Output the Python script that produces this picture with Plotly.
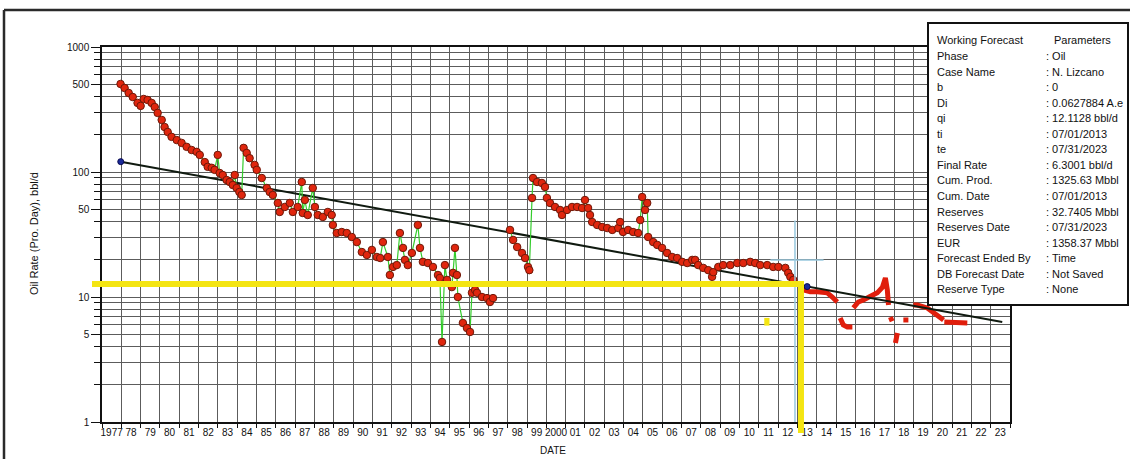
import plotly.graph_objects as go

# ---------------- data ----------------
# Monthly oil-rate history (decimal year, bbl/d); None marks the shut-in gap
hist_year = [
    1977.96, 1978.17, 1978.38, 1978.59, 1978.84, 1979.00, 1979.16, 1979.36, 1979.57, 1979.73,
    1979.88, 1980.09, 1980.24, 1980.40, 1980.60, 1980.87, 1981.12, 1981.38, 1981.64, 1981.90,
    1982.06, 1982.32, 1982.47, 1982.68, 1982.83, 1982.99, 1983.09, 1983.25, 1983.45, 1983.61,
    1983.77, 1983.87, 1983.97, 1984.11, 1984.23, 1984.33, 1984.49, 1984.64, 1984.90, 1985.01,
    1985.27, 1985.53, 1985.68, 1985.84, 1986.10, 1986.20, 1986.46, 1986.72, 1986.88, 1987.13,
    1987.34, 1987.39, 1987.50, 1987.65, 1987.91, 1988.02, 1988.17, 1988.43, 1988.69, 1988.89,
    1988.95, 1989.15, 1989.41, 1989.67, 1989.93, 1990.19, 1990.45, 1990.71, 1990.97, 1991.23,
    1991.40, 1991.54, 1991.80, 1991.90, 1992.06, 1992.26, 1992.42, 1992.58, 1992.68, 1992.83,
    1993.04, 1993.35, 1993.46, 1993.61, 1993.87, 1994.13, 1994.39, 1994.49, 1994.60, 1994.75,
    1994.86, 1995.11, 1995.17, 1995.27, 1995.37, 1995.42, 1995.68, 1995.89, 1996.05, 1996.15,
    1996.31, 1996.41, 1996.67, 1996.93, 1997.08, 1997.24, None,
    1998.12, 1998.28, 1998.49, 1998.74, 1998.90, 1999.05, 1999.12, 1999.26, 1999.31, 1999.52,
    1999.77, 1999.93, 2000.03, 2000.19, 2000.45, 2000.71, 2000.81, 2001.07, 2001.33, 2001.59,
    2001.85, 2002.00, 2002.16, 2002.26, 2002.37, 2002.63, 2002.89, 2003.15, 2003.41, 2003.72,
    2003.82, 2003.97, 2004.23, 2004.49, 2004.75, 2004.86, 2004.96, 2005.11, 2005.22, 2005.27,
    2005.53, 2005.74, 2005.99, 2006.25, 2006.51, 2006.77, 2007.03, 2007.29, 2007.55, 2007.70,
    2007.86, 2008.12, 2008.38, 2008.58, 2008.64, 2008.90, 2009.15, 2009.52, 2009.88, 2010.19,
    2010.55, 2010.81, 2011.07, 2011.43, 2011.74, 2012.01, 2012.37, 2012.52, 2012.63, 2012.78,
]
hist_rate = [
    506, 470, 429, 398, 357, 338, 384, 377, 357, 331,
    297, 261, 229, 209, 191, 180, 171, 159, 150, 145,
    137, 120, 110, 108, 104, 137, 98.2, 94.6, 86.3, 83.2,
    78.7, 94.6, 74.5, 69.2, 65.5, 156, 142, 129, 114, 104,
    89.5, 74.5, 69.2, 65.5, 56.5, 47.9, 52.5, 56.5, 47.9, 52.5,
    83.2, 47.0, 59.7, 45.3, 74.5, 52.5, 45.3, 43.7, 47.9, 45.3,
    37.7, 32.5, 33.1, 32.5, 30.2, 27.5, 22.9, 21.7, 23.8, 20.9,
    20.5, 27.5, 20.9, 15.0, 17.4, 18.0, 32.5, 24.7, 19.8, 18.0,
    22.5, 37.7, 24.7, 19.1, 18.7, 17.4, 15.0, 14.2, 4.37, 18.0,
    13.7, 12.0, 15.6, 24.7, 15.0, 10.0, 6.2, 5.65, 5.25, 10.8,
    11.4, 10.8, 10.0, 9.8, 9.12, 9.8, None,
    34.4, 28.6, 25.1, 22.5, 20.5, 17.4, 16.4, 62.0, 89.5, 83.2,
    81.7, 75.9, 62.0, 56.5, 52.5, 49.7, 45.3, 49.7, 52.5, 52.5,
    51.5, 59.7, 51.5, 45.3, 39.8, 37.7, 36.3, 35.6, 34.4, 35.6,
    39.8, 33.1, 34.4, 33.1, 32.5, 41.3, 63.1, 49.7, 56.5, 30.2,
    27.5, 26.1, 24.7, 22.5, 20.9, 20.5, 19.1, 18.7, 19.8, 19.8,
    18.0, 17.1, 16.4, 14.5, 15.8, 17.4, 18.0, 18.0, 18.7, 18.7,
    19.1, 18.7, 18.0, 18.0, 17.4, 17.4, 17.1, 15.6, 14.5, 13.7,
]

# Production after the forecast start (drawn as a heavy red trace)
post_year = [
    2013.30, 2013.66, 2014.02, 2014.54, 2014.80, 2015.06, None,
    2015.21, 2015.37, 2015.58, 2015.84, None,
    2015.89, 2016.15, 2016.41, 2016.77, 2017.13, 2017.40, 2017.55, 2017.65, 2017.71, None,
    2017.81, 2017.90, None,
    2018.07, 2018.17, None,
    2018.48, 2018.74, None,
    2019.00, 2019.20, 2019.72, 2020.03, 2020.39, 2020.56, None,
    2020.60, 2021.07, 2021.59, 2021.79,
]
post_rate = [
    11.4, 11.0, 11.0, 10.8, 10.0, 9.12, None,
    6.8, 5.97, 5.75, 5.75, None,
    8.17, 9.12, 9.46, 10.0, 10.8, 12.0, 14.2, 11.4, 8.63, None,
    6.9, 6.4, None,
    4.29, 5.16, None,
    6.55, 6.55, None,
    8.63, 8.63, 8.17, 7.59, 6.93, 6.55, None,
    6.31, 6.31, 6.31, 6.2,
]

# Exponential decline: start of the fitted line and final forecast rate
fit_year = [1977.97, 2023.60]
fit_rate = [121.0, 6.3001]

# Anchor points of the decline (start of fit, ti = 07/01/2013)
anchor_year = [1977.97, 2013.50]
anchor_rate = [121.0, 12.1128]

# Hand-drawn markers: qi level and forecast start date
qi_level = 12.7
ti_marker_year = 2013.18
cursor_year = 2012.87
cursor_rate = 19.8

year_ticks = list(range(1977, 2024))
year_labels = [
    "1977", "78", "79", "80", "81", "82", "83", "84", "85", "86", "87", "88", "89", "90",
    "91", "92", "93", "94", "95", "96", "97", "98", "99", "2000", "01", "02", "03", "04",
    "05", "06", "07", "08", "09", "10", "11", "12", "13", "14", "15", "16", "17", "18",
    "19", "20", "21", "22", "23",
]
rate_ticks = [1, 5, 10, 50, 100, 500, 1000]
rate_minor = [2, 3, 4, 6, 7, 8, 9, 20, 30, 40, 60, 70, 80, 90,
              200, 300, 400, 600, 700, 800, 900]

param_names = [
    "Working Forecast", "Phase", "Case Name", "b", "Di", "qi", "ti", "te",
    "Final Rate", "Cum. Prod.", "Cum. Date", "Reserves", "Reserves Date", "EUR",
    "Forecast Ended By", "DB Forecast Date", "Reserve Type",
]
param_values = [
    "Parameters", ": Oil", ": N. Lizcano", ": 0", ": 0.0627884 A.e", ": 12.1128 bbl/d",
    ": 07/01/2013", ": 07/31/2023", ": 6.3001 bbl/d", ": 1325.63 Mbbl", ": 07/01/2013",
    ": 32.7405 Mbbl", ": 07/31/2023", ": 1358.37 Mbbl", ": Time", ": Not Saved", ": None",
]

# ---------------- layout geometry (pixels) ----------------
W, H = 1130, 459
L, R, T, B = 102, 1010, 47, 422
FONT = "Liberation Sans, Arial, sans-serif"


def px(x):
    return (x - L) / (R - L)


def py(y):
    return (B - y) / (B - T)


GRID = "#5c5c5c"
YELLOW = "#f4e512"
CURSOR = "#98c8de"

fig = go.Figure()

fig.add_trace(go.Scatter(
    x=post_year, y=post_rate, mode="lines",
    line=dict(color="#e01e0c", width=5), connectgaps=False, hoverinfo="skip",
))
fig.add_trace(go.Scatter(
    x=fit_year, y=fit_rate, mode="lines",
    line=dict(color="#101a10", width=2), hoverinfo="skip",
))
fig.add_trace(go.Scatter(
    x=hist_year, y=hist_rate, mode="lines+markers", connectgaps=False,
    line=dict(color="#34cc2c", width=1.2),
    marker=dict(symbol="circle", size=7.5, color="#e0260e",
                line=dict(color="#6e1808", width=1)),
))
fig.add_trace(go.Scatter(
    x=anchor_year, y=anchor_rate, mode="markers",
    marker=dict(size=6, color="#1a2a9a", line=dict(color="#0a0a50", width=1)),
))

shapes = []
# outer frame of the report window
shapes.append(dict(type="line", xref="paper", yref="paper",
                   x0=px(4), x1=px(W + 5), y0=py(10), y1=py(10),
                   line=dict(color="#2a2a2a", width=2.5), layer="above"))
shapes.append(dict(type="line", xref="paper", yref="paper",
                   x0=px(4), x1=px(4), y0=py(10), y1=py(H + 5),
                   line=dict(color="#2a2a2a", width=2.5), layer="above"))
# cursor cross-hair
shapes.append(dict(type="line", xref="x", yref="y",
                   x0=cursor_year, x1=cursor_year, y0=41.0, y1=1.0,
                   line=dict(color=CURSOR, width=1.5), layer="above"))
shapes.append(dict(type="line", xref="x", yref="y",
                   x0=2011.6, x1=2014.35, y0=cursor_rate, y1=cursor_rate,
                   line=dict(color=CURSOR, width=1.5), layer="above"))
# qi level and forecast start markers
shapes.append(dict(type="line", xref="paper", yref="y",
                   x0=px(92), x1=px(804), y0=qi_level, y1=qi_level,
                   line=dict(color=YELLOW, width=6), layer="above"))
shapes.append(dict(type="line", xref="x", yref="paper",
                   x0=ti_marker_year, x1=ti_marker_year, y0=py(281), y1=py(433),
                   line=dict(color=YELLOW, width=6), layer="above"))
shapes.append(dict(type="rect", xref="x", yref="y",
                   x0=2011.28, x1=2011.55, y0=5.9, y1=6.8,
                   fillcolor=YELLOW, line=dict(width=0), layer="above"))
# parameter box
shapes.append(dict(type="rect", xref="paper", yref="paper",
                   x0=px(928), x1=px(1128), y0=py(305), y1=py(23),
                   fillcolor="white", line=dict(color="#111111", width=2),
                   layer="above"))

annotations = []
for i, (name, val) in enumerate(zip(param_names, param_values)):
    yy = py(40.5 + 15.55 * i)
    annotations.append(dict(xref="paper", yref="paper", x=px(935), y=yy,
                             text=name, showarrow=False, xanchor="left",
                             yanchor="middle",
                             font=dict(family=FONT, size=11, color="#111")))
    vx = 1052 if i == 0 else 1044
    annotations.append(dict(xref="paper", yref="paper", x=px(vx), y=yy,
                             text=val, showarrow=False, xanchor="left",
                             yanchor="middle",
                             font=dict(family=FONT, size=11, color="#111")))

annotations.append(dict(xref="paper", yref="paper", x=px(34), y=py(234),
                        text="Oil Rate (Pro. Day), bbl/d", textangle=-90,
                        showarrow=False, xanchor="center", yanchor="middle",
                        font=dict(family=FONT, size=11, color="#111")))
annotations.append(dict(xref="paper", yref="paper", x=px(553), y=py(450),
                        text="DATE", showarrow=False, xanchor="center",
                        yanchor="middle",
                        font=dict(family=FONT, size=10, color="#111")))

fig.update_layout(
    width=W, height=H,
    margin=dict(l=L, r=W - R, t=T, b=H - B, pad=0),
    paper_bgcolor="white", plot_bgcolor="white",
    showlegend=False,
    font=dict(family=FONT, size=10, color="#111"),
    shapes=shapes, annotations=annotations,
    xaxis=dict(
        range=[1977, 2024],
        tickmode="array",
        tickvals=[y + 0.5 for y in year_ticks],
        ticktext=year_labels,
        ticks="", showgrid=False,
        tickfont=dict(family=FONT, size=10, color="#111"),
        showline=True, linecolor="#111", linewidth=1.5, mirror=True,
        minor=dict(tickmode="array", tickvals=year_ticks + [2024],
                   showgrid=True, gridcolor=GRID, gridwidth=1,
                   ticks="outside", ticklen=4, tickcolor="#111"),
        zeroline=False,
    ),
    yaxis=dict(
        type="log", range=[0, 3],
        tickmode="array", tickvals=rate_ticks,
        ticktext=[str(v) for v in rate_ticks],
        ticks="outside", ticklen=9, tickcolor="#111",
        showgrid=True, gridcolor=GRID, gridwidth=1,
        tickfont=dict(family=FONT, size=10, color="#111"),
        showline=True, linecolor="#111", linewidth=1.5, mirror=True,
        minor=dict(tickmode="array", tickvals=rate_minor,
                   showgrid=True, gridcolor=GRID, gridwidth=1,
                   ticks="outside", ticklen=6, tickcolor="#111"),
        zeroline=False,
    ),
)

fig.write_html("out.html")
